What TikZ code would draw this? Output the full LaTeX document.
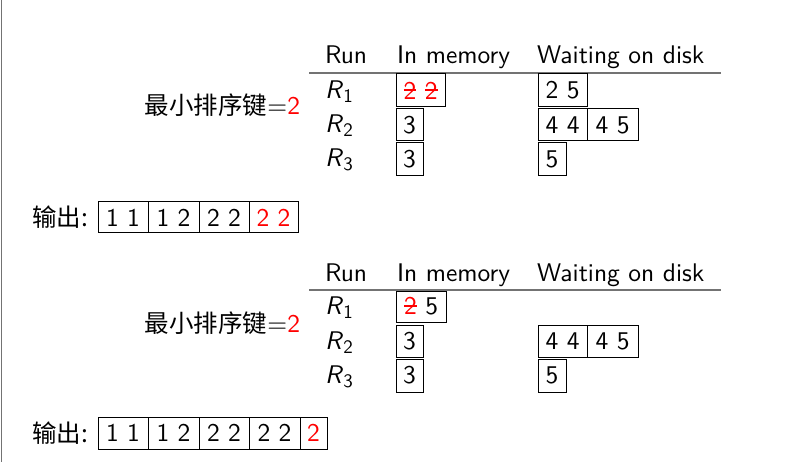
\documentclass[tikz,border=0pt]{standalone}
\usepackage{fontspec}
\setsansfont{lmsans10-regular}[Extension=.otf, ItalicFont=lmsans10-oblique, BoldFont=lmsans10-bold]
\newfontfamily\cjk{Noto Sans CJK SC}
\newcommand\strk[1]{\makebox[0pt][l]{\rule[0.31em]{0.5em}{0.07em}}#1}
\newcommand\Rsub[1]{\textit{R}\raisebox{-4pt}{\fontsize{19}{19}\selectfont #1}}
\begin{document}
\begin{tikzpicture}[x=1pt,y=-1pt,
  every node/.style={font=\sffamily\fontsize{25.5}{30}\selectfont, inner sep=0pt, outer sep=0pt},
  hdr/.style={anchor=base west},
  cell/.style={draw, line width=1pt, anchor=north west, minimum height=32pt},
  rulestyle/.style={draw=black!55, line width=1.3pt},
  hot/.style={text=red}]
\useasboundingbox (0,0) rectangle (792,462);
\draw[black!55, line width=1.2pt] (1.5,0) -- (1.5,462);

% ---------- top table ----------
\node[hdr] (trun) at (325,64) {Run};
\node[hdr] (tmem) at (397,64) {In memory};
\node[hdr] (tdisk) at (537,64) {Waiting on disk};
\coordinate (trl) at (309,73);
\coordinate (trr) at (721,73);
\draw[rulestyle] (trl) -- (trr);
\node[hdr] (tr1) at (325,99) {\Rsub{1}};
\node[hdr] (tr2) at (325,132.5) {\Rsub{2}};
\node[hdr] (tr3) at (325,167) {\Rsub{3}};
\node[cell, minimum width=49pt, minimum height=33pt, hot] (tm1) at (396,74) {\strk{2} \strk{2}};
\node[cell, minimum width=49pt, minimum height=33pt] (td1) at (538,74) {2 5};
\node[cell, minimum width=27pt] (tm2) at (396,109) {3};
\node[cell, minimum width=49pt] (td2a) at (538,109) {4 4};
\node[cell, minimum width=51pt] (td2b) at (587,109) {4 5};
\node[cell, minimum width=27pt, minimum height=33pt] (tm3) at (396,143) {3};
\node[cell, minimum width=28pt, minimum height=33pt] (td3) at (538,143) {5};
\node[anchor=base east] (tkey) at (300,115) {{\cjk\fontsize{24.5}{28}\selectfont 最小排序键}=\textcolor{red}{2}};

% top output
\node[anchor=east] (tout) at (88,217.5) {\cjk\fontsize{24.5}{28}\selectfont 输出:};
\node[cell, minimum width=50pt, minimum height=31pt] (to1) at (98,202) {1 1};
\node[cell, minimum width=51pt, minimum height=31pt] (to2) at (148,202) {1 2};
\node[cell, minimum width=50pt, minimum height=31pt] (to3) at (199,202) {2 2};
\node[cell, minimum width=49pt, minimum height=31pt, hot] (to4) at (249,202) {2 2};

% ---------- bottom table ----------
\node[hdr] (brun) at (325,282) {Run};
\node[hdr] (bmem) at (397,282) {In memory};
\node[hdr] (bdisk) at (537,282) {Waiting on disk};
\coordinate (brl) at (309,290);
\coordinate (brr) at (721,290);
\draw[rulestyle] (brl) -- (brr);
\node[hdr] (br1) at (325,314) {\Rsub{1}};
\node[hdr] (br2) at (325,349) {\Rsub{2}};
\node[hdr] (br3) at (325,383.5) {\Rsub{3}};
\node[cell, minimum width=50pt, minimum height=31pt] (bm1) at (396,291) {\textcolor{red}{\strk{2}} 5};
\node[cell, minimum width=27pt] (bm2) at (396,325) {3};
\node[cell, minimum width=49pt] (bd2a) at (538,325) {4 4};
\node[cell, minimum width=51pt] (bd2b) at (587,325) {4 5};
\node[cell, minimum width=27pt, minimum height=33pt] (bm3) at (396,359) {3};
\node[cell, minimum width=28pt, minimum height=33pt] (bd3) at (538,359) {5};
\node[anchor=base east] (bkey) at (300,332) {{\cjk\fontsize{24.5}{28}\selectfont 最小排序键}=\textcolor{red}{2}};

% bottom output
\node[anchor=east] (bout) at (88,433) {\cjk\fontsize{24.5}{28}\selectfont 输出:};
\node[cell, minimum width=50pt] (bo1) at (98,417) {1 1};
\node[cell, minimum width=51pt] (bo2) at (148,417) {1 2};
\node[cell, minimum width=50pt] (bo3) at (199,417) {2 2};
\node[cell, minimum width=51pt] (bo4) at (249,417) {2 2};
\node[cell, minimum width=27pt, hot] (bo5) at (300,417) {2};
\end{tikzpicture}
\end{document}
